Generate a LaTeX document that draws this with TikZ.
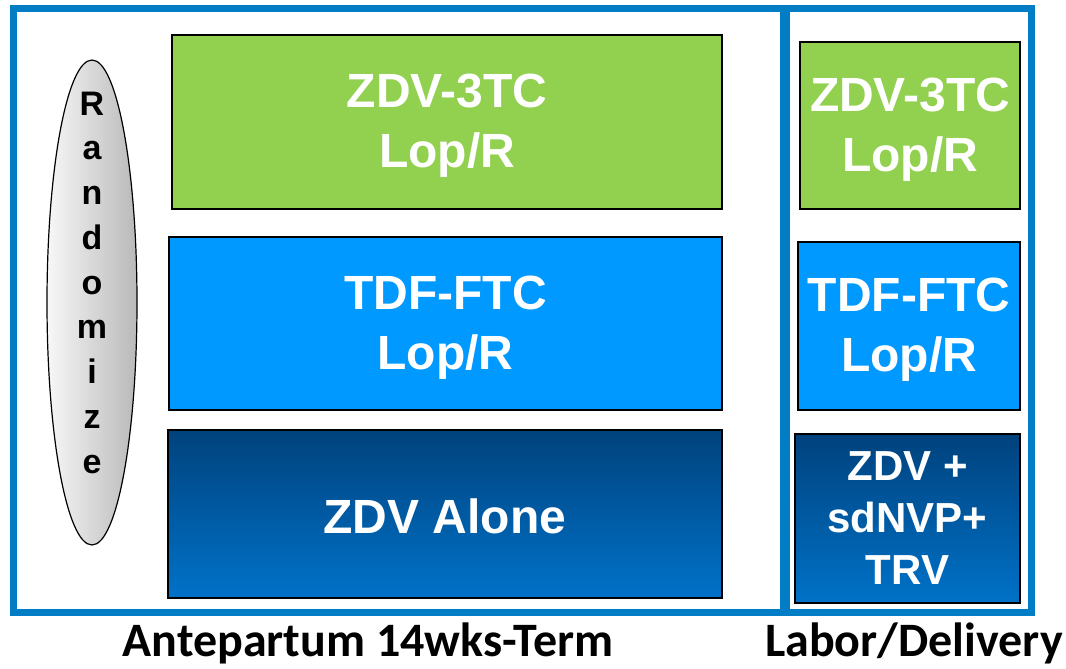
\documentclass[tikz,border=0pt]{standalone}
\usepackage{fontspec}
\setmainfont{Liberation Sans}
\newfontfamily\calibri{Carlito}
\usepackage{tikz}
\usetikzlibrary{positioning, shapes.geometric}
\definecolor{frameblue}{RGB}{0,125,197}
\definecolor{armgreen}{RGB}{146,208,80}
\definecolor{armlight}{RGB}{0,153,255}
\definecolor{armdarktop}{RGB}{0,66,125}
\definecolor{armdarkbot}{RGB}{0,114,200}
\tikzset{
	phase/.append style={
		draw=frameblue,
		line width=7pt
	},
	arm/.append style={
		draw=black,
		line width=1.5pt,
		align = center,
		text=white,
		inner sep=0pt,
		font={\fontsize{48}{60}\selectfont\bfseries}
	},
	greenarm/.append style={arm, fill=armgreen, text height=101pt},
	lightarm/.append style={arm, fill=armlight, text height=101pt},
	darkarm/.append style={arm, top color=armdarktop, bottom color=armdarkbot},
	letter/.append style={
		anchor=base,
		inner sep=0pt,
		font={\fontsize{34}{34}\selectfont\bfseries}
	},
	caption/.append style={
		anchor=base,
		inner sep=0pt,
		font={\calibri\fontsize{48}{48}\selectfont\bfseries}
	}
}

\begin{document}
\begin{tikzpicture}[x=1pt, y=-1pt]
\useasboundingbox (0,0) rectangle (1066,669);

% study phases
\draw[phase] (13.5,9) rectangle (783.5,612.5);
\draw[phase] (786.5,9) rectangle (1031,612.5);

% randomization
\node[ellipse, draw, line width=1.2pt, left color=gray!6, right color=gray!55,
	minimum width=90pt, minimum height=485pt] (rand) at (92,302.5) {};
\foreach \c [count=\i] in {R,a,n,d,o,m,i,z,e}
	\node[letter] (l\i) at (92,{115+44.75*(\i-1)}) {\c};

% antepartum arms
\node[greenarm, minimum width=550pt, minimum height=174pt] (anteA) at (447,122) {ZDV-3TC\\Lop/R};
\node[lightarm, minimum width=553pt, minimum height=173pt] (anteB) at (445.5,323.5) {TDF-FTC\\Lop/R};
\node[darkarm, minimum width=554pt, minimum height=168pt, text height=40pt] (anteC) at (445,514) {ZDV Alone};

% labor/delivery arms
\node[greenarm, minimum width=220pt, minimum height=167pt] (laborA) at (910,125.5) {ZDV-3TC\\Lop/R};
\node[lightarm, minimum width=222pt, minimum height=168pt] (laborB) at (909,326) {TDF-FTC\\Lop/R};
\node[darkarm, minimum width=225pt, minimum height=169pt,
	font={\fontsize{42}{52}\selectfont\bfseries}] (laborC) at (907.5,518.5) {ZDV +\\sdNVP+\\TRV};

% phase labels
\node[caption] (ante) at (368,656) {Antepartum 14wks-Term};
\node[caption] (labor) at (914,656) {Labor/Delivery};
\end{tikzpicture}
\end{document}
